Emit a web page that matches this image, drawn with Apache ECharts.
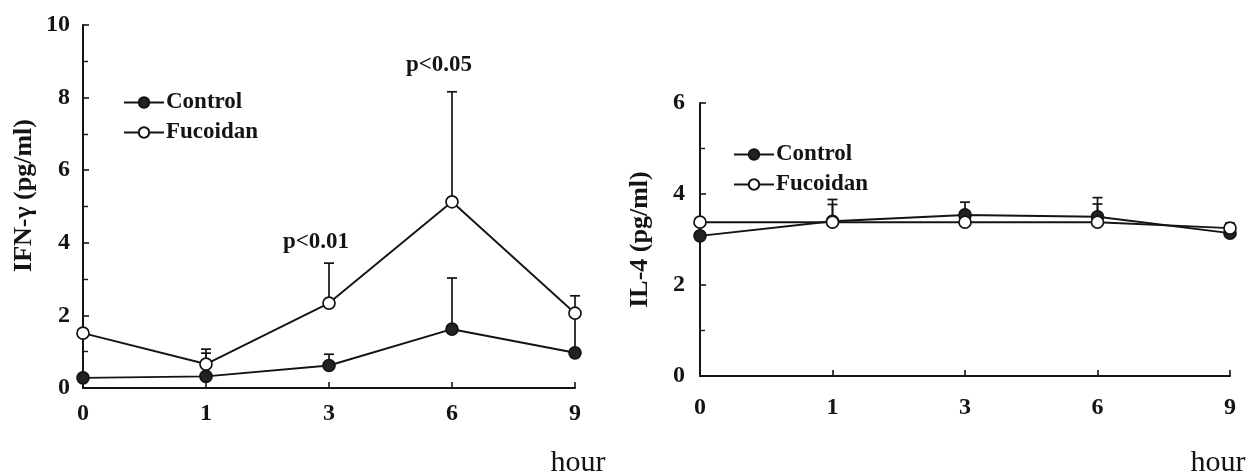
<!DOCTYPE html>
<html>
<head>
<meta charset="utf-8">
<script src="https://cdn.jsdelivr.net/npm/echarts@6/dist/echarts.min.js"></script>
<style>
  html, body { margin: 0; padding: 0; background: #ffffff; }
  #chart { width: 1258px; height: 472px; }
</style>
</head>
<body>
<div id="chart"></div>
<script>
// Sampling times (hours)
const hours = ['0', '1', '3', '6', '9'];

// IFN-gamma (pg/ml): means and upper error-bar ends
const ifnControl = [0.28, 0.32, 0.62, 1.62, 0.97];
const ifnControlTop = [0.28, 0.96, 0.93, 3.03, 2.0];
const ifnFucoidan = [1.51, 0.66, 2.34, 5.13, 2.06];
const ifnFucoidanTop = [1.51, 1.07, 3.44, 8.16, 2.54];

// IL-4 (pg/ml): means and upper error-bar ends
const il4Control = [3.08, 3.40, 3.54, 3.50, 3.14];
const il4ControlTop = [3.08, 3.88, 3.82, 3.92, 3.30];
const il4Fucoidan = [3.38, 3.38, 3.38, 3.38, 3.25];
const il4FucoidanTop = [3.38, 3.77, 3.38, 3.78, 3.36];

// Significance notes on the IFN-gamma panel: [hour index, height, text]
const ifnNotes = [[2, 4.02, 'p<0.01'], [3, 8.9, 'p<0.05']];

const SERIF = '"Liberation Serif", "DejaVu Serif", serif';
const INK = '#141414';

const chart = echarts.init(document.getElementById('chart'), null, { renderer: 'canvas' });

function errorRows(means, tops) {
  return means.map((m, i) => [i, m, tops[i]]);
}

function errorSeries(name, xi, means, tops) {
  return {
    type: 'custom',
    name: name + ' SD',
    xAxisIndex: xi,
    yAxisIndex: xi,
    z: 1,
    silent: true,
    data: errorRows(means, tops),
    renderItem: function (params, api) {
      const x = api.value(0);
      const base = api.coord([x, api.value(1)]);
      const top = api.coord([x, api.value(2)]);
      if (Math.abs(base[1] - top[1]) < 1) return null;
      const half = 5;
      return {
        type: 'group',
        children: [
          { type: 'line', shape: { x1: base[0], y1: base[1], x2: top[0], y2: top[1] },
            style: { stroke: INK, lineWidth: 1.7 } },
          { type: 'line', shape: { x1: top[0] - half, y1: top[1], x2: top[0] + half, y2: top[1] },
            style: { stroke: INK, lineWidth: 1.7 } }
        ]
      };
    }
  };
}

function lineSeries(name, xi, values, filled) {
  return {
    type: 'line',
    name: name,
    xAxisIndex: xi,
    yAxisIndex: xi,
    data: values,
    z: 3,
    symbol: 'circle',
    symbolSize: 12,
    showSymbol: true,
    lineStyle: { color: INK, width: 1.9 },
    itemStyle: { color: filled ? '#222222' : '#ffffff', borderColor: INK, borderWidth: 1.7 },
    emphasis: { disabled: true },
    animation: false
  };
}

const tickLabel = { fontFamily: SERIF, fontWeight: 'bold', fontSize: 24, color: INK };

function xAxis(gi, labelMargin, hourGap, hourPad) {
  return {
    type: 'category',
    gridIndex: gi,
    data: hours,
    boundaryGap: false,
    axisLine: { lineStyle: { color: INK, width: 2 } },
    axisTick: { inside: true, length: 6, lineStyle: { color: INK, width: 1.6 } },
    axisLabel: Object.assign({ margin: labelMargin }, tickLabel),
    splitLine: { show: false },
    name: 'hour',
    nameLocation: 'end',
    nameGap: hourGap,
    nameTextStyle: {
      fontFamily: SERIF, fontSize: 30, color: INK, align: 'center',
      verticalAlign: 'top', padding: [hourPad, 0, 0, 0]
    }
  };
}

function yAxis(gi, max, interval, title, titleGap, labelMargin, titleShift) {
  return {
    type: 'value',
    gridIndex: gi,
    min: 0,
    max: max,
    interval: interval,
    axisLine: { show: true, lineStyle: { color: INK, width: 2 } },
    axisTick: { show: true, inside: true, length: 6, lineStyle: { color: INK, width: 1.6 } },
    minorTick: { show: true, splitNumber: 2, length: 5, lineStyle: { color: INK, width: 1.4 } },
    axisLabel: Object.assign({ margin: labelMargin }, tickLabel),
    splitLine: { show: false },
    name: title,
    nameLocation: 'middle',
    nameGap: titleGap,
    nameTextStyle: { fontFamily: SERIF, fontWeight: 'bold', fontSize: 26, color: INK, padding: titleShift }
  };
}

function legend(left, top) {
  return {
    left: left,
    top: top,
    orient: 'vertical',
    itemWidth: 40,
    itemHeight: 13,
    itemGap: 7,
    data: ['Control', 'Fucoidan'],
    selectedMode: false,
    textStyle: { fontFamily: SERIF, fontWeight: 'bold', fontSize: 23, color: INK, lineHeight: 23, padding: [0, 0, 0, -3] }
  };
}

const option = {
  backgroundColor: '#ffffff',
  animation: false,
  grid: [
    { left: 83, right: 683, top: 25, bottom: 84, outerBoundsMode: 'none' },
    { left: 700, right: 28, top: 103, bottom: 96, outerBoundsMode: 'none' }
  ],
  legend: [legend(118, 86), legend(728, 138)],
  xAxis: [xAxis(0, 14, 3, 60), xAxis(1, 20, -12, 72)],
  yAxis: [
    yAxis(0, 10, 2, 'IFN-γ (pg/ml)', 46, 13, [0, 0, 0, 22]),
    yAxis(1, 6, 2, 'IL-4 (pg/ml)', 47, 15, [0, 0, 0, 0])
  ],
  series: [
    errorSeries('Control', 0, ifnControl, ifnControlTop),
    errorSeries('Fucoidan', 0, ifnFucoidan, ifnFucoidanTop),
    lineSeries('Control', 0, ifnControl, true),
    lineSeries('Fucoidan', 0, ifnFucoidan, false),
    errorSeries('Control', 1, il4Control, il4ControlTop),
    errorSeries('Fucoidan', 1, il4Fucoidan, il4FucoidanTop),
    lineSeries('Control', 1, il4Control, true),
    lineSeries('Fucoidan', 1, il4Fucoidan, false),
    {
      type: 'scatter',
      name: 'notes',
      xAxisIndex: 0,
      yAxisIndex: 0,
      symbolSize: 0,
      silent: true,
      itemStyle: { opacity: 1 },
      data: ifnNotes.map(n => ({ value: [n[0], n[1]], note: n[2] })),
      label: {
        show: true,
        position: 'inside',
        offset: [-13, 0],
        formatter: p => p.data.note,
        fontFamily: SERIF, fontWeight: 'bold', fontSize: 23, color: INK
      }
    }
  ]
};

chart.setOption(option);
</script>
</body>
</html>
